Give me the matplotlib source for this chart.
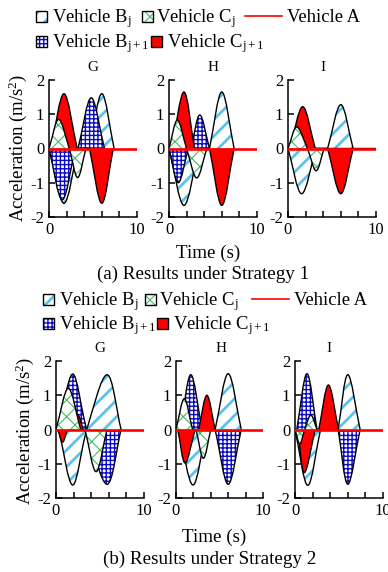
import matplotlib
matplotlib.use('Agg')
import matplotlib.pyplot as plt
from matplotlib.patches import Rectangle, PathPatch
from matplotlib.path import Path
from matplotlib.lines import Line2D

plt.rcParams['font.family'] = ['Liberation Serif', 'DejaVu Serif']
plt.rcParams['mathtext.fontset'] = 'custom'
plt.rcParams['mathtext.rm'] = 'Liberation Serif'
plt.rcParams['mathtext.it'] = 'Liberation Serif:italic'
plt.rcParams['axes.unicode_minus'] = False

# panels: top row = strategy 1 (G, H, I), bottom row = strategy 2 (G, H, I)
panel_names = ['G', 'H', 'I', 'G', 'H', 'I']
title_x = [5, 5, 4, 5, 5.2, 3.9]
captions = ['(a) Results under Strategy 1', '(b) Results under Strategy 2']

# Vehicle Bj
bj_t = [[0, 1.7, 3.3, 4.6, 6.0, 7.4], [0, 1.7, 3.4, 4.6, 6.0, 7.4], [0, 1.55, 3.2, 4.5, 6.0, 7.4],
        [0.3, 1.9, 3.5, 5.8, 7.4], [0.3, 1.95, 3.5, 4.5, 6.0, 7.5], [0, 1.45, 2.9, 4.9, 6.0, 7.4]]
bj_a = [[0, -1.6, 0, 0, 1.6, 0], [0, -1.66, 0, 0, 1.65, 0], [0, -1.32, 0, 0, 1.28, 0],
        [0, -1.62, 0, 1.6, 0], [0, -1.62, 0, 0, 1.63, 0], [0, -1.63, 0, 0, 1.6, 0]]
# Vehicle Bj+1
bj1_t = [[0, 1.5, 3.0, 3.3, 4.8, 6.3], [0, 1.05, 2.2, 2.5, 3.5, 4.6], [0, 10],
         [0.3, 1.9, 3.5, 5.8, 7.4], [0.5, 1.7, 3.0, 4.5, 6.0, 7.5], [0.2, 1.36, 2.5, 4.9, 6.0, 7.4]]
bj1_a = [[0, -1.5, 0, 0, 1.48, 0], [0, -1.0, 0, 0, 0.98, 0], [0, 0],
         [0, 1.62, 0, -1.6, 0], [0, 1.6, 0, 0, -1.6, 0], [0, 1.63, 0, 0, -1.6, 0]]
# Vehicle Cj
cj_t = [[0, 1.1, 2.3, 3.25, 4.2], [0, 0.95, 2.0, 3.15, 4.3], [0, 1.0, 2.2, 3.2, 4.1],
        [0, 1.4, 2.8, 3.3, 4.55, 5.8], [0, 0.95, 1.9, 2.3, 3.15, 4.0], [0, 0.55, 1.1, 1.8, 2.5]]
cj_a = [[0, 0.85, 0, -0.85, 0], [0, 0.83, 0, -0.86, 0], [0, 0.63, 0, -0.65, 0],
        [0, 1.2, 0, 0, -1.23, 0], [0, 0.9, 0, 0, -0.84, 0], [0, -0.42, 0, 0.42, 0]]
# Vehicle Cj+1
cj1_t = [[0.2, 1.7, 3.2, 4.6, 6.0, 7.3], [0.3, 1.7, 2.9, 4.6, 6.0, 7.4], [0.2, 1.67, 3.1, 4.5, 6.0, 7.4],
         [0.2, 0.75, 1.3, 2.0, 2.5, 3.1], [0.2, 1.05, 2.2, 2.6, 3.55, 4.5], [0.3, 1.06, 2.3, 2.7, 3.8, 4.95]]
cj1_a = [[0, 1.6, 0, 0, -1.6, 0], [0, 1.65, 0, 0, -1.66, 0], [0, 1.22, 0, 0, -1.32, 0],
         [0, -0.37, 0, 0, 0.42, 0], [0, -0.98, 0, 0, 1.0, 0], [0, -1.26, 0, 0, 1.3, 0]]
# Vehicle A
a_t = [0, 10]
a_a = [0, 0]

W, H = 388, 572
fig = plt.figure(figsize=(W / 100, H / 100), dpi=100)

# axes boxes in pixels (left, right, top, bottom)
boxes = [(49, 137, 80, 217), (169, 257, 80, 217), (288, 376, 80, 217),
         (56, 144, 361, 498), (176, 263, 361, 498), (295, 383, 361, 498)]

sty_bj = dict(face='white', hatch='//', hc='#5BC2EE', hlw=2.0)
sty_bj1 = dict(face='white', hatch='++++', hc='#0A0AC8', hlw=1.0)
sty_cj = dict(face='white', hatch='xx', hc='#44BB66', hlw=0.8)
sty_cj1 = dict(face='#FF0000', hatch=None, hc='none', hlw=1.0)


def curve_path(t, a, close):
    # knots joined with bezier pieces: straight into zero points, rounded at peaks
    pts = list(zip(t, a))
    n = len(pts)
    tin, tout = [], []
    for i in range(n):
        p = pts[i]
        prv = pts[i - 1] if i > 0 else p
        nxt = pts[i + 1] if i < n - 1 else p
        if p[1] != 0 or (prv[1] * nxt[1] < 0):
            tg = ((nxt[0] - prv[0]) / 2, (nxt[1] - prv[1]) / 2)
            tin.append(tg)
            tout.append(tg)
        else:
            tin.append((p[0] - prv[0], p[1] - prv[1]))
            tout.append((nxt[0] - p[0], nxt[1] - p[1]))
    verts = [pts[0]]
    codes = [Path.MOVETO]
    for i in range(n - 1):
        p0, p1 = pts[i], pts[i + 1]
        c1 = (p0[0] + tout[i][0] / 3, p0[1] + tout[i][1] / 3)
        c2 = (p1[0] - tin[i + 1][0] / 3, p1[1] - tin[i + 1][1] / 3)
        verts += [c1, c2, p1]
        codes += [Path.CURVE4] * 3
    if close:
        verts += [(t[0], 0), (t[0], 0)]
        codes += [Path.LINETO, Path.CLOSEPOLY]
    return Path(verts, codes)


def draw_vehicle(ax, t, a, s, z):
    f = PathPatch(curve_path(t, a, True), facecolor=s['face'], edgecolor=s['hc'],
                  hatch=s['hatch'], linewidth=0, zorder=z)
    if s['hatch'] and hasattr(f, 'set_hatch_linewidth'):
        f.set_hatch_linewidth(s['hlw'])
    ax.add_patch(f)
    ax.add_patch(PathPatch(curve_path(t, a, False), facecolor='none', edgecolor='k',
                           linewidth=1.0, zorder=z + 0.5, joinstyle='round'))


for k in range(6):
    l, r, tp, bt = boxes[k]
    ax = fig.add_axes([l / W, 1 - bt / H, (r - l) / W, (bt - tp) / H])
    draw_vehicle(ax, bj_t[k], bj_a[k], sty_bj, 1)
    draw_vehicle(ax, bj1_t[k], bj1_a[k], sty_bj1, 2)
    draw_vehicle(ax, cj1_t[k], cj1_a[k], sty_cj1, 3)
    draw_vehicle(ax, cj_t[k], cj_a[k], sty_cj, 4)
    ax.plot(a_t, a_a, color='red', lw=1.9, zorder=10)
    ax.set_xlim(0, 10)
    ax.set_ylim(-2, 2)
    ax.set_xticks([0, 2, 4, 6, 8, 10])
    ax.set_xticklabels(['0', '', '', '', '', '10'])
    ax.set_yticks([-2, -1, 0, 1, 2])
    ax.spines['top'].set_visible(False)
    ax.spines['right'].set_visible(False)
    ax.spines['left'].set_linewidth(1.1)
    ax.spines['bottom'].set_linewidth(1.1)
    ax.tick_params(direction='in', length=4, width=1.1, labelsize=12, pad=3.5)
    ax.patch.set_visible(False)
    ax.text(title_x[k], 2.17, panel_names[k], ha='center', va='bottom', fontsize=11)


# axis labels and captions (pixel positions)
def ftext(x, y, s, **kw):
    fig.text(x / W, 1 - y / H, s, **kw)


ftext(18, 148, 'Acceleration (m/s$^2$)', rotation=90, ha='center', va='center', fontsize=13.5)
ftext(25, 431, 'Acceleration (m/s$^2$)', rotation=90, ha='center', va='center', fontsize=13.5)
ftext(208, 253, 'Time (s)', ha='center', va='center', fontsize=13.7)
ftext(214, 537, 'Time (s)', ha='center', va='center', fontsize=13.7)
ftext(203, 274, captions[0], ha='center', va='center', fontsize=13.7)
ftext(210, 559, captions[1], ha='center', va='center', fontsize=13.7)


# legends drawn by hand
def leg_patch(x, base, s):
    sz = 11
    rct = Rectangle((x / W, 1 - base / H), sz / W, sz / H, transform=fig.transFigure,
                    facecolor=s['face'], edgecolor=s['hc'], hatch=s['hatch'], linewidth=0)
    if s['hatch'] and hasattr(rct, 'set_hatch_linewidth'):
        rct.set_hatch_linewidth(s['hlw'])
    fig.add_artist(rct)
    fig.add_artist(Rectangle((x / W, 1 - base / H), sz / W, sz / H, transform=fig.transFigure,
                             facecolor='none', edgecolor='k', linewidth=1.0))


def legend(xs, b1, b2):
    leg_patch(xs[0], b1, sty_bj)
    ftext(xs[0] + 16, b1, 'Vehicle B$_\\mathregular{j}$', va='baseline', fontsize=13.4)
    leg_patch(xs[1], b1, sty_cj)
    ftext(xs[1] + 14, b1, 'Vehicle C$_\\mathregular{j}$', va='baseline', fontsize=13.4)
    fig.add_artist(Line2D([xs[2] / W, (xs[2] + 37) / W], [1 - (b1 - 6) / H] * 2,
                          transform=fig.transFigure, color='red', lw=1.2))
    ftext(xs[2] + 42, b1, 'Vehicle A', va='baseline', fontsize=13.4)
    leg_patch(xs[0], b2, sty_bj1)
    ftext(xs[0] + 16, b2, 'Vehicle B$_\\mathregular{j+1}$', va='baseline', fontsize=13.4)
    leg_patch(xs[3], b2, sty_cj1)
    ftext(xs[3] + 16, b2, 'Vehicle C$_\\mathregular{j+1}$', va='baseline', fontsize=13.4)


legend([36, 142, 245, 151], 22, 47)
legend([43, 145, 252, 157], 305, 329)

fig.savefig('out.png', dpi=100)
